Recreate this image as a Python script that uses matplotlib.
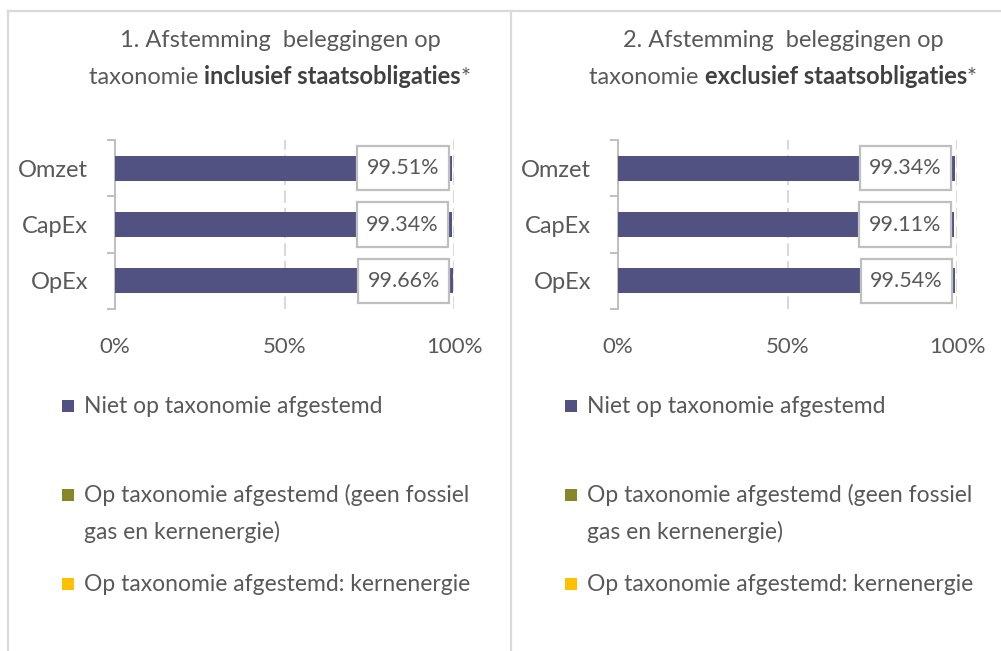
import matplotlib
matplotlib.use("Agg")
import matplotlib.pyplot as plt
from matplotlib.patches import Rectangle
from matplotlib.lines import Line2D
from matplotlib.offsetbox import TextArea, HPacker, AnnotationBbox

# ---------------- data ----------------
categories = ["Omzet", "CapEx", "OpEx"]
niet_incl = [99.51, 99.34, 99.66]
niet_excl = [99.34, 99.11, 99.54]
xtick_vals = [0, 50, 100]
xtick_labels = ["0%", "50%", "100%"]
legend_labels = [
    "Niet op taxonomie afgestemd",
    "Op taxonomie afgestemd (geen fossiel\ngas en kernenergie)",
    "Op taxonomie afgestemd: kernenergie",
]
title_line1 = ["1. Afstemming  beleggingen op", "2. Afstemming  beleggingen op"]
title_bold = ["inclusief staatsobligaties", "exclusief staatsobligaties"]

# ---------------- style ----------------
FONT = "Lato"
TXT = "#595959"
DARK = "#404040"
BAR = "#525282"
OLIVE = "#878728"
YELLOW = "#ffc000"
LINE = "#d9d9d9"
BOXEDGE = "#bfbfbf"
legend_colors = [BAR, OLIVE, YELLOW]

W, H = 1001, 651
fig = plt.figure(figsize=(W / 100, H / 100), dpi=100)
fig.patch.set_facecolor("white")

def fx(px):
    return px / W

def fy(py):
    return 1 - py / H

# frame lines
fig.add_artist(Line2D([fx(8), 1], [fy(11), fy(11)], color=LINE, lw=1.6, transform=fig.transFigure))
fig.add_artist(Line2D([fx(8), fx(8)], [fy(11), 0], color=LINE, lw=1.6, transform=fig.transFigure))
fig.add_artist(Line2D([fx(511), fx(511)], [fy(11), 0], color=LINE, lw=1.6, transform=fig.transFigure))

panels = [
    (115, niet_incl, 280, 0),
    (618, niet_excl, 783, 1),
]

tp = dict(color=TXT, family=FONT, weight="normal")

for left_px, vals, tcx, k in panels:
    ax = fig.add_axes([fx(left_px), fy(309), 339 / W, 169 / H])
    ypos = list(range(len(categories)))
    ax.barh(ypos, vals, height=0.44, color=BAR, zorder=3)
    ax.set_xlim(0, 100)
    ax.set_ylim(len(categories) - 0.5, -0.5)
    ax.set_yticks(ypos)
    ax.set_yticklabels(categories, fontsize=17, **tp)
    ax.set_yticks([-0.5 + i for i in range(len(categories) + 1)], minor=True)
    ax.tick_params(axis="y", which="major", length=0, pad=19.5)
    ax.tick_params(axis="y", which="minor", length=5.8, width=1.4, color=BOXEDGE)
    ax.set_xticks(xtick_vals)
    ax.set_xticklabels(xtick_labels, fontsize=16, **tp)
    ax.tick_params(axis="x", length=0, pad=20)
    for s in ["top", "right", "bottom"]:
        ax.spines[s].set_visible(False)
    ax.spines["left"].set_color(BOXEDGE)
    ax.spines["left"].set_linewidth(1.4)
    ax.xaxis.grid(True, color=LINE, lw=1.5, linestyle=(0, (6, 2.5)), zorder=0)
    ax.set_axisbelow(True)
    for i, v in enumerate(vals):
        ax.add_patch(Rectangle((v - 28, i - 0.395), 27, 0.79, facecolor="white",
                               edgecolor=BOXEDGE, lw=1.6, zorder=4))
        ax.text(v - 14.5, i, f"{v:.2f}%", ha="center", va="center", fontsize=15.5,
                zorder=5, **tp)

    # title
    fig.text(fx(tcx), fy(47), title_line1[k], ha="center", va="baseline",
             fontsize=17, **tp)
    tp_l = dict(fontsize=17, color=TXT, family=FONT, weight="normal")
    tp_b = dict(fontsize=17, color=DARK, family=FONT, weight="bold")
    box = HPacker(children=[TextArea("taxonomie ", textprops=tp_l),
                            TextArea(title_bold[k], textprops=tp_b),
                            TextArea("*", textprops=tp_l)],
                  align="baseline", pad=0, sep=0)
    ab = AnnotationBbox(box, (fx(tcx), fy(88)), xycoords="figure fraction",
                        box_alignment=(0.5, 0.0), frameon=False, pad=0)
    fig.add_artist(ab)

    # legend
    lx = left_px - 53
    for j, (lab, col) in enumerate(zip(legend_labels, legend_colors)):
        cy = 406 + 89 * j
        fig.add_artist(Rectangle((fx(lx), fy(cy + 6)), fx(12), 12 / H,
                                 facecolor=col, edgecolor="none", transform=fig.transFigure))
        for n, line in enumerate(lab.split("\n")):
            fig.text(fx(lx + 22), fy(cy + 7 + 37 * n), line, ha="left", va="baseline",
                     fontsize=16.5, **tp)

fig.savefig("out.png", dpi=100, facecolor="white")
